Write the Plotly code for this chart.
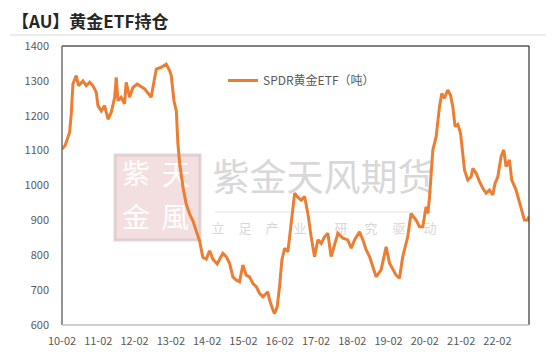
import plotly.graph_objects as go

# ---------------- data ----------------
dates = [
    "2010-02-01", "2010-03-03", "2010-04-19", "2010-05-05", "2010-05-22", "2010-06-24", "2010-07-18",
    "2010-08-31", "2010-10-03", "2010-11-07", "2010-12-10", "2011-01-12", "2011-01-29", "2011-03-03",
    "2011-04-06", "2011-05-10", "2011-06-12", "2011-07-16", "2011-08-01", "2011-08-18", "2011-09-20",
    "2011-10-24", "2011-11-09", "2011-12-13", "2012-01-16", "2012-02-28", "2012-05-13", "2012-07-18",
    "2012-08-04", "2012-09-07", "2012-10-27", "2012-12-16", "2013-01-20", "2013-02-05", "2013-03-04",
    "2013-03-28", "2013-04-13", "2013-05-01", "2013-06-03", "2013-07-05", "2013-08-09", "2013-09-11",
    "2013-10-14", "2013-11-17", "2013-12-20", "2014-01-23", "2014-02-26", "2014-03-31", "2014-05-13",
    "2014-07-09", "2014-08-12", "2014-09-15", "2014-10-18", "2014-11-20", "2014-12-24", "2015-01-27",
    "2015-03-01", "2015-04-04", "2015-05-08", "2015-06-10", "2015-07-14", "2015-08-16", "2015-10-05",
    "2015-10-22", "2015-11-25", "2015-12-12", "2016-01-07", "2016-01-31", "2016-02-23", "2016-03-22",
    "2016-04-24", "2016-05-22", "2016-06-14", "2016-07-01", "2016-07-27", "2016-09-05", "2016-10-09",
    "2016-11-11", "2016-12-14", "2017-01-17", "2017-02-20", "2017-03-25", "2017-04-28", "2017-05-31",
    "2017-07-03", "2017-08-07", "2017-09-09", "2017-10-29", "2017-12-18", "2018-01-21", "2018-02-24",
    "2018-04-15", "2018-05-19", "2018-06-21", "2018-07-25", "2018-08-27", "2018-09-29", "2018-11-18",
    "2019-01-08", "2019-02-11", "2019-03-16", "2019-04-18", "2019-05-22", "2019-06-24", "2019-08-13",
    "2019-09-16", "2019-11-05", "2019-12-09", "2020-01-12", "2020-02-14", "2020-03-03", "2020-03-20",
    "2020-04-22", "2020-05-25", "2020-06-28", "2020-07-21", "2020-08-17", "2020-09-19", "2020-10-17",
    "2020-11-09", "2020-12-02", "2020-12-30", "2021-01-26", "2021-02-18", "2021-03-07", "2021-04-09",
    "2021-05-12", "2021-05-30", "2021-07-02", "2021-08-05", "2021-09-07", "2021-10-10", "2021-11-13",
    "2021-12-16", "2022-01-08", "2022-02-05", "2022-03-10", "2022-04-06", "2022-04-29", "2022-06-02",
    "2022-06-25", "2022-08-08", "2022-09-11", "2022-10-14", "2022-10-31", "2022-12-03", "2022-12-16",
]
spdr_tonnes = [
    1105, 1114, 1153, 1205, 1291, 1315, 1286,
    1300, 1286, 1296, 1286, 1267, 1229, 1214,
    1229, 1190, 1210, 1253, 1310, 1243, 1253,
    1234, 1296, 1253, 1281, 1291, 1277, 1253,
    1281, 1334, 1339, 1348, 1329, 1315, 1243,
    1214, 1119, 1062, 995, 947, 918, 899,
    870, 841, 794, 789, 813, 789, 775,
    806, 796, 777, 738, 729, 724, 772,
    743, 738, 719, 710, 691, 681, 695,
    672, 643, 633, 652, 710, 786, 820,
    810, 882, 949, 978, 968, 958, 968,
    920, 853, 796, 844, 834, 853, 863,
    796, 834, 863, 849, 844, 820, 844,
    867, 844, 815, 796, 767, 738, 758,
    824, 777, 758, 743, 734, 796, 853,
    920, 901, 882, 882, 939, 920, 968,
    1102, 1140, 1226, 1264, 1250, 1274, 1259,
    1226, 1169, 1175, 1150, 1092, 1044, 1016,
    1025, 1049, 1035, 1011, 992, 978, 987,
    973, 1006, 1025, 1083, 1102, 1054, 1073,
    1016, 987, 949, 920, 901, 901, 911,
]
tick_labels = ["10-02", "11-02", "12-02", "13-02", "14-02", "15-02", "16-02",
               "17-02", "18-02", "19-02", "20-02", "21-02", "22-02"]
tick_dates = ["20%s-%s-01" % (t.split("-")[0], t.split("-")[1]) for t in tick_labels]
y_ticks = [600, 700, 800, 900, 1000, 1100, 1200, 1300, 1400]

series_name = "SPDR黄金ETF（吨）"
title_text = "【AU】黄金ETF持仓"
wm_main = "紫金天风期货"
wm_sub = ["立", "足", "产", "业", "研", "究", "驱", "动"]

# ---------------- style / layout ----------------
W, H = 554, 357
OFF = 8  # page body margin of the browser
# target plot area in screen pixels: x 62..529, y 46..325
ML = 62 - OFF
MT = 46 - OFF
MR = W - (529 - OFF)
MB = H - (325 - OFF)
PW, PH = W - ML - MR, H - MT - MB
FONT = "Noto Sans CJK SC, Noto Sans, sans-serif"


def px(x):  # screen x -> paper
    return (x - OFF - ML) / PW


def py(y):  # screen y -> paper
    return (H - MB - (y - OFF)) / PH


fig = go.Figure()

# watermark (on hidden base axes, drawn beneath the data line)
wm_x = [px(323.5)] + [px(v) for v in (218, 245, 272, 300, 341, 371, 399, 430)]
wm_y = [py(182)] + [py(230)] * 8
fig.add_trace(go.Scatter(
    x=wm_x, y=wm_y, mode="text", text=[wm_main] + wm_sub,
    textfont=dict(family=FONT, size=[37] + [13] * 8, color="#D8D8D8"),
    hoverinfo="skip", showlegend=False, xaxis="x", yaxis="y"))
fig.add_trace(go.Scatter(
    x=[px(136), px(176), px(136), px(175)], y=[py(177), py(178), py(221), py(221)],
    mode="text", text=["紫", "天", "金", "風"],
    textfont=dict(family=FONT, size=28, color="rgba(255,255,255,0.95)"),
    hoverinfo="skip", showlegend=False, xaxis="x", yaxis="y"))

# data
fig.add_trace(go.Scatter(
    x=dates, y=spdr_tonnes, mode="lines", name=series_name,
    line=dict(color="#ED7D31", width=3),
    xaxis="x2", yaxis="y2"))

shapes = [
    # watermark logo box + divider
    dict(type="rect", xref="paper", yref="paper", x0=px(115), x1=px(200), y0=py(240), y1=py(155),
         fillcolor="rgba(214,150,150,0.30)", line=dict(color="rgba(215,195,195,0.7)", width=3),
         layer="below"),
    dict(type="line", xref="paper", yref="paper", x0=px(215), x1=px(432), y0=py(212), y1=py(212),
         line=dict(color="#E4E4E4", width=1), layer="below"),
    # title separator
    dict(type="line", xref="paper", yref="paper", x0=px(10), x1=px(548), y0=py(35), y1=py(35),
         line=dict(color="#D9D9D9", width=1)),
    # plot frame
    dict(type="line", xref="paper", yref="paper", x0=0, x1=0, y0=0, y1=1,
         line=dict(color="#595959", width=1.3)),
    dict(type="line", xref="paper", yref="paper", x0=0, x1=1, y0=1, y1=1,
         line=dict(color="#595959", width=1.3)),
    dict(type="line", xref="paper", yref="paper", x0=1, x1=1, y0=0, y1=1,
         line=dict(color="#404040", width=1.3)),
    dict(type="line", xref="paper", yref="paper", x0=0, x1=1, y0=0, y1=0,
         line=dict(color="#BFBFBF", width=1.6)),
]

fig.update_layout(
    width=W, height=H,
    margin=dict(l=ML, r=MR, t=MT, b=MB, autoexpand=False),
    paper_bgcolor="white", plot_bgcolor="white",
    font=dict(family=FONT, size=11, color="#595959"),
    xaxis=dict(range=[0, 1], visible=False, fixedrange=True),
    yaxis=dict(range=[0, 1], visible=False, fixedrange=True),
    xaxis2=dict(type="date", overlaying="x", range=["2010-02-01", "2022-12-16"],
                tickvals=tick_dates, ticktext=tick_labels, showgrid=False, automargin=False,
                showline=False, zeroline=False, ticks="", ticklabelstandoff=8,
                tickfont=dict(size=11, color="#595959")),
    yaxis2=dict(overlaying="y", range=[600, 1400], tickvals=y_ticks, showgrid=False,
                automargin=False, showline=False, zeroline=False, ticks="",
                ticklabelstandoff=12, tickfont=dict(size=11, color="#595959")),
    legend=dict(x=px(223), y=py(66), xanchor="left", yanchor="top",
                bgcolor="rgba(0,0,0,0)", font=dict(size=12, color="#595959")),
    showlegend=True,
    shapes=shapes,
    annotations=[dict(text="<b>" + title_text + "</b>", xref="paper", yref="paper",
                      x=px(11), y=py(21), xanchor="left", yanchor="middle", showarrow=False,
                      borderpad=0, font=dict(family=FONT, size=17, color="#262626"))],
)

fig.write_html("out.html")
